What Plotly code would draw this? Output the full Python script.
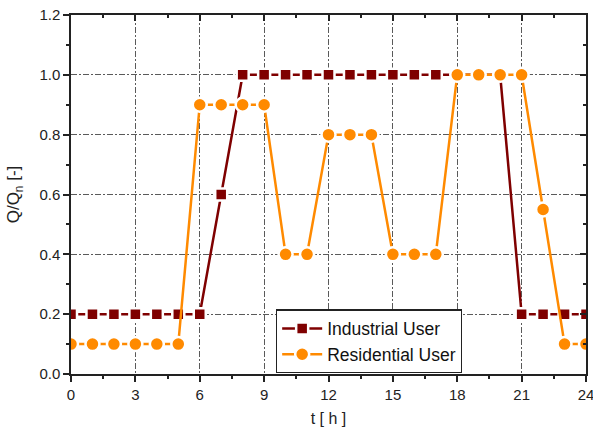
import plotly.graph_objects as go

hours = list(range(25))
industrial = [0.2, 0.2, 0.2, 0.2, 0.2, 0.2, 0.2, 0.6, 1.0, 1.0, 1.0, 1.0, 1.0,
              1.0, 1.0, 1.0, 1.0, 1.0, 1.0, 1.0, 1.0, 0.2, 0.2, 0.2, 0.2]
residential = [0.1, 0.1, 0.1, 0.1, 0.1, 0.1, 0.9, 0.9, 0.9, 0.9, 0.4, 0.4, 0.8,
               0.8, 0.8, 0.4, 0.4, 0.4, 1.0, 1.0, 1.0, 1.0, 0.55, 0.1, 0.1]
x_ticks = [0, 3, 6, 9, 12, 15, 18, 21, 24]
y_ticks = [0.0, 0.2, 0.4, 0.6, 0.8, 1.0, 1.2]

FONT = "Liberation Sans, Arial, sans-serif"
IND_COLOR = "#7f0000"
RES_COLOR = "#ff8a00"

fig = go.Figure()
fig.add_trace(go.Scatter(
    x=hours, y=industrial, name="Industrial User", mode="lines+markers",
    line=dict(color=IND_COLOR, width=2.5),
    marker=dict(symbol="square", size=12, color=IND_COLOR,
                line=dict(color="white", width=2.5)),
))
fig.add_trace(go.Scatter(
    x=hours, y=residential, name="Residential User", mode="lines+markers",
    line=dict(color=RES_COLOR, width=2.5),
    marker=dict(symbol="circle", size=14, color=RES_COLOR,
                line=dict(color="white", width=2.5)),
))
# dummy trace to activate mirrored axes (top/right with inside ticks)
fig.add_trace(go.Scatter(x=[0], y=[0], xaxis="x2", yaxis="y2", mode="markers",
                         marker=dict(opacity=0), showlegend=False, hoverinfo="skip"))

grid = dict(showgrid=True, gridcolor="#5a5a5a", gridwidth=1, griddash="6px,2px,2px,2px")
axis_common = dict(showline=True, linecolor="#222", linewidth=1.5,
                   tickcolor="#222", tickwidth=1.5, zeroline=False, automargin=False,
                   tickfont=dict(family=FONT, size=15, color="#222"))

fig.update_layout(
    width=593, height=427,
    margin=dict(l=71, r=7, t=15, b=53),
    paper_bgcolor="white", plot_bgcolor="white",
    xaxis=dict(range=[0, 24], tickvals=x_ticks, ticks="outside", ticklen=6,
               ticklabeloverflow="allow",
               minor=dict(dtick=1.5, tick0=0, ticks="outside", ticklen=3,
                          tickcolor="#222", tickwidth=1.5, showgrid=False),
               title=dict(text="t [ h ]", font=dict(family=FONT, size=16, color="#222")),
               **grid, **axis_common),
    yaxis=dict(range=[0, 1.2], tickvals=y_ticks, tickformat=".1f", ticks="outside",
               ticklen=6,
               minor=dict(dtick=0.1, tick0=0, ticks="outside", ticklen=3,
                          tickcolor="#222", tickwidth=1.5, showgrid=False),
               title=dict(text="Q/Q<sub>n</sub> [-]",
                          font=dict(family=FONT, size=17, color="#222")),
               **grid, **axis_common),
    xaxis2=dict(overlaying="x", side="top", range=[0, 24], tickvals=x_ticks,
                ticks="inside", ticklen=6, showticklabels=False, showgrid=False,
                minor=dict(dtick=1.5, tick0=0, ticks="inside", ticklen=3,
                           tickcolor="#222", tickwidth=1.5),
                showline=True, linecolor="#222", linewidth=1.5, tickcolor="#222",
                tickwidth=1.5, zeroline=False, automargin=False),
    yaxis2=dict(overlaying="y", side="right", range=[0, 1.2], tickvals=y_ticks,
                ticks="inside", ticklen=6, showticklabels=False, showgrid=False,
                minor=dict(dtick=0.1, tick0=0, ticks="inside", ticklen=3,
                           tickcolor="#222", tickwidth=1.5),
                showline=True, linecolor="#222", linewidth=1.5, tickcolor="#222",
                tickwidth=1.5, zeroline=False, automargin=False),
    legend=dict(x=0.398, y=0.18, xanchor="left", yanchor="top",
                bgcolor="white", bordercolor="#222", borderwidth=1.2,
                font=dict(family=FONT, size=17.5, color="#111"),
                tracegroupgap=0, itemwidth=40),
    showlegend=True,
)

fig.write_html("out.html")
